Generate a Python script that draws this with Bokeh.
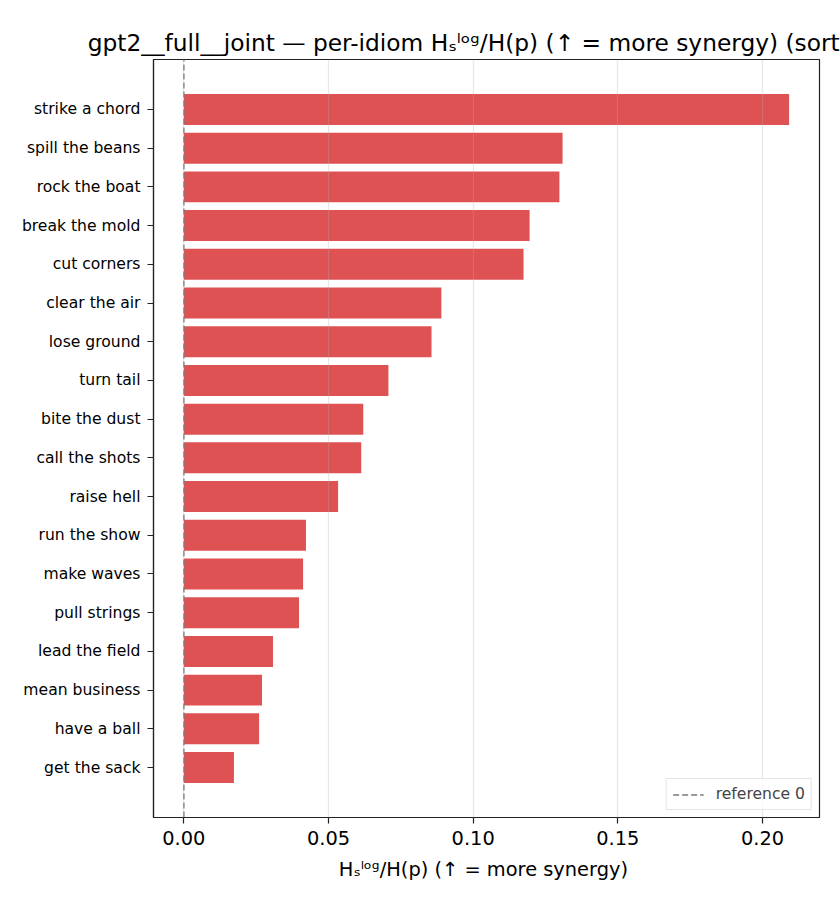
from bokeh.plotting import figure
from bokeh.models import (Range1d, FixedTicker, PrintfTickFormatter,
                          Legend, LegendItem, ColumnDataSource)
from bokeh.embed import file_html
from bokeh.resources import INLINE

# idioms, top to bottom (sorted by score)
idioms = ["strike a chord", "spill the beans", "rock the boat", "break the mold",
          "cut corners", "clear the air", "lose ground", "turn tail",
          "bite the dust", "call the shots", "raise hell", "run the show",
          "make waves", "pull strings", "lead the field", "mean business",
          "have a ball", "get the sack"]
scores = [0.2092, 0.1309, 0.1298, 0.1195, 0.1174, 0.0890, 0.0856, 0.0707,
          0.0620, 0.0613, 0.0533, 0.0422, 0.0412, 0.0398, 0.0308, 0.0270,
          0.0260, 0.0173]
x_ticks = [0.0, 0.05, 0.10, 0.15, 0.20]

METRIC = "H\u209b\u02e1\u1d52\u1d4d/H(p)"
FONT = "DejaVu Sans"
n = len(idioms)
pos = list(range(n))
src = ColumnDataSource(dict(pos=pos, score=scores, name=idioms))

p = figure(width=840, height=910, output_backend="svg", toolbar_location=None,
           x_range=Range1d(-0.0105, 0.2197),
           y_range=Range1d(n - 1 + 1.29, -1.29),
           min_border_left=153, min_border_right=21,
           min_border_top=59, min_border_bottom=93)

p.title.text = (f"gpt2__full__joint \u2014 per-idiom {METRIC}  "
                "(\u2191 = more synergy) (sorted)")
p.title.align = "center"
p.title.text_font = FONT
p.title.text_font_size = "23.3px"
p.title.text_font_style = "normal"
p.title.text_color = "#000000"
p.title.standoff = 8

p.hbar(y="pos", left=0, right="score", height=0.8, source=src,
       fill_color="#de5253", line_color=None)

ref = p.line(x=[0, 0], y=[n - 1 + 1.29, -1.29], line_color="#7a7a7a",
             line_width=1.4, line_dash="6 3")

legend = Legend(items=[LegendItem(label="reference 0", renderers=[ref])],
                location="bottom_right", margin=7, padding=6, spacing=0,
                glyph_width=31, glyph_height=15, label_height=15,
                label_standoff=12, label_text_font=FONT,
                label_text_font_size="15.6px", border_line_color="#cccccc",
                border_line_width=1, background_fill_alpha=0.8)
p.add_layout(legend)

# axes styling
p.outline_line_color = "#222222"
p.outline_line_width = 1.2
for ax in (p.xaxis[0], p.yaxis[0]):
    ax.axis_line_color = "#222222"
    ax.axis_line_width = 1.2
    ax.major_tick_line_color = "#222222"
    ax.major_tick_line_width = 1.2
    ax.major_tick_out = 6
    ax.major_tick_in = 0
    ax.minor_tick_line_color = None
    ax.major_label_text_font = FONT
    ax.major_label_text_color = "#000000"

p.xaxis.ticker = FixedTicker(ticks=x_ticks)
p.xaxis.formatter = PrintfTickFormatter(format="%.2f")
p.xaxis.major_label_text_font_size = "19.4px"
p.xaxis.major_label_standoff = 7
p.xaxis.axis_label = f"{METRIC}  (\u2191 = more synergy)"
p.xaxis.axis_label_text_font = FONT
p.xaxis.axis_label_text_font_size = "19.4px"
p.xaxis.axis_label_text_font_style = "normal"
p.xaxis.axis_label_text_color = "#000000"
p.xaxis.axis_label_standoff = 10

p.yaxis.ticker = FixedTicker(ticks=pos)
p.yaxis.major_label_overrides = {i: name for i, name in enumerate(idioms)}
p.yaxis.major_label_text_font_size = "15.6px"
p.yaxis.major_label_standoff = 7

p.ygrid.grid_line_color = None
p.xgrid.ticker = FixedTicker(ticks=x_ticks)
p.xgrid.grid_line_color = "#b0b0b0"
p.xgrid.grid_line_alpha = 0.3
p.xgrid.grid_line_width = 1.2
p.xgrid.level = "annotation"

open("out.html", "w").write(file_html(p, INLINE))
